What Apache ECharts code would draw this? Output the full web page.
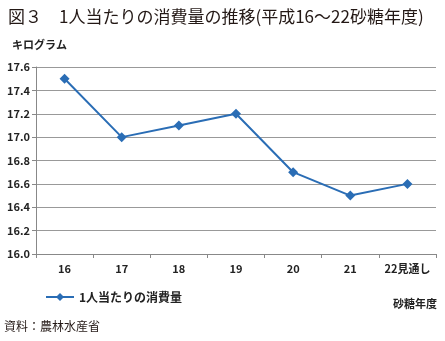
<!DOCTYPE html>
<html><head><meta charset="utf-8">
<script src="https://cdn.jsdelivr.net/npm/echarts@6/dist/echarts.min.js"></script>
<style>html,body{margin:0;padding:0;background:#fff}#c{width:445px;height:341px}</style>
</head><body><div id="c"></div>
<script>
const categories = ['16','17','18','19','20','21','22見通し'];
const consumption = [17.5, 17.0, 17.1, 17.2, 16.7, 16.5, 16.6];
const seriesName = '1人当たりの消費量';
const titleText = '図３　1人当たりの消費量の推移(平成16～22砂糖年度)';
const unitText = 'キログラム';
const xUnitText = '砂糖年度';
const sourceText = '資料：農林水産省';
const FONT = '"Noto Sans CJK JP", "Noto Sans", sans-serif';
const chart = echarts.init(document.getElementById('c'), null, {renderer:'canvas'});
chart.setOption({
  animation:false,
  textStyle:{fontFamily:FONT},
  title:{text:titleText,left:3,top:3,textStyle:{fontFamily:FONT,fontSize:17,fontWeight:'normal',color:'#231815'}},
  grid:{left:36,right:9,top:67,bottom:87},
  legend:{left:40,top:286,itemWidth:28,itemHeight:10,itemGap:4,
    textStyle:{fontFamily:FONT,fontSize:12,color:'#222',fontWeight:'bold'},data:[seriesName]},
  graphic:[
    {type:'text',left:12,top:39,style:{text:unitText,font:'bold 11px '+FONT,fill:'#222'}},
    {type:'text',right:8,top:298,style:{text:xUnitText,font:'bold 11px '+FONT,fill:'#222'}},
    {type:'text',left:4,top:320,style:{text:sourceText,font:'12px '+FONT,fill:'#231815'}}
  ],
  xAxis:{type:'category',data:categories,boundaryGap:true,
    axisLine:{lineStyle:{color:'#888'}},
    axisTick:{show:true,interval:0,alignWithLabel:false,length:4,lineStyle:{color:'#888'}},
    axisLabel:{interval:0,fontFamily:FONT,fontSize:11,color:'#222',fontWeight:'bold',margin:9}},
  yAxis:{type:'value',min:16.0,max:17.6,interval:0.2,
    axisLine:{show:true,lineStyle:{color:'#888'}},
    axisTick:{show:true,length:4,lineStyle:{color:'#888'}},
    splitLine:{lineStyle:{color:'#999'}},
    axisLabel:{fontFamily:FONT,fontSize:11,color:'#222',fontWeight:'bold',margin:6,
      formatter:v=>v.toFixed(1)}},
  series:[{name:seriesName,type:'line',data:consumption,symbol:'diamond',symbolSize:10,
    lineStyle:{width:2,color:'#2a6db5'},itemStyle:{color:'#2a6db5'}}]
});
</script></body></html>
